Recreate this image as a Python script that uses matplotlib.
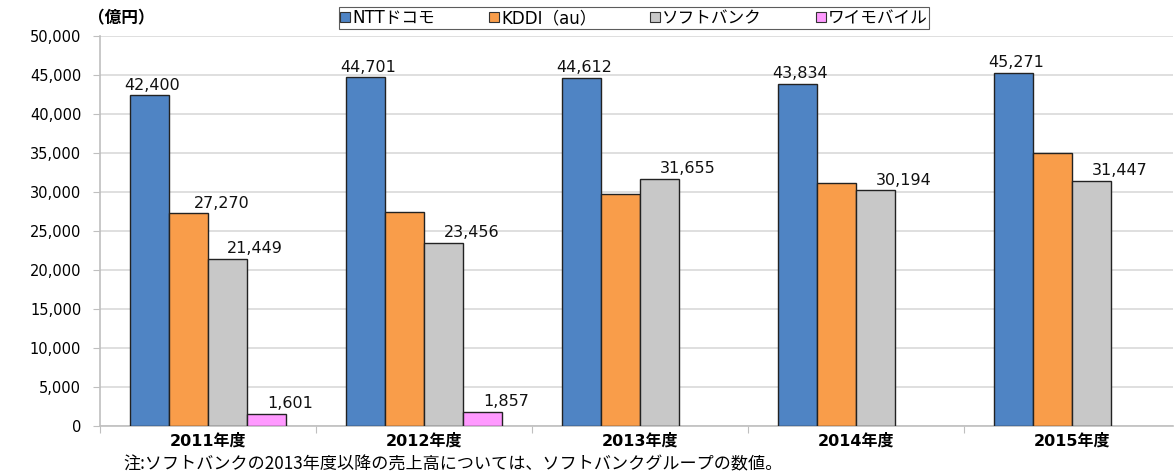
import matplotlib.pyplot as plt
from matplotlib.lines import Line2D
from matplotlib.ticker import FuncFormatter, FixedLocator
import numpy as np

years = ['2011年度', '2012年度', '2013年度', '2014年度', '2015年度']
series = ['NTTドコモ', 'KDDI（au）', 'ソフトバンク', 'ワイモバイル']
docomo = [42400, 44701, 44612, 43834, 45271]
kddi = [27270, 27400, 29700, 31150, 35000]
softbank = [21449, 23456, 31655, 30194, 31447]
ymobile = [1601, 1857, 0, 0, 0]
# which values carry a label in the original
kddi_labeled = [True, False, False, False, False]
ymobile_labeled = [True, True, False, False, False]

colors = ['#4F84C4', '#F99D4A', '#C8C8C8', '#FF99FF']
jp = ['DejaVu Sans', 'Noto Sans CJK JP']

W, H = 1174, 473
fig = plt.figure(figsize=(W / 100, H / 100), dpi=100)
ax = fig.add_axes([100 / W, (H - 426) / H, (1173 - 100) / W, 390 / H])

x = np.arange(len(years))
w = 39 / 216
data = [docomo, kddi, softbank, ymobile]
for i, (vals, c) in enumerate(zip(data, colors)):
    pos = x + (i - 1.5) * w
    v = np.array(vals, dtype=float)
    mask = v > 0
    ax.bar(pos[mask], v[mask], width=w, color=c, edgecolor='#222222', linewidth=1.0, zorder=3)

def label(xp, v, dx):
    ax.annotate(f'{v:,}', (xp, v), xytext=(dx, 2), textcoords='offset points',
                ha='center', va='bottom', fontsize=11.5, family=jp, color='#111111')

for j in range(len(years)):
    label(x[j] - 1.5 * w, docomo[j], 2)
    if kddi_labeled[j]:
        label(x[j] - 0.5 * w, kddi[j], 24)
    label(x[j] + 0.5 * w, softbank[j], 20)
    if ymobile_labeled[j]:
        label(x[j] + 1.5 * w, ymobile[j], 17)

ax.set_ylim(0, 50000)
ax.set_xlim(-0.5, -0.5 + (1173 - 100) / 216)
ax.set_yticks(np.arange(0, 50001, 5000))
ax.yaxis.set_major_formatter(FuncFormatter(lambda v, p: f'{int(v):,}'))
ax.grid(axis='y', color='#D9D9D9', linewidth=1.2, zorder=0)
ax.set_axisbelow(True)
for s in ['top', 'right']:
    ax.spines[s].set_visible(False)
for s in ['left', 'bottom']:
    ax.spines[s].set_color('#BFBFBF')
    ax.spines[s].set_linewidth(1.2)
ax.tick_params(axis='y', length=5, color='#BFBFBF', pad=8.5, labelsize=10.5)
for t in ax.get_yticklabels():
    t.set_family(jp)
ax.xaxis.set_major_locator(FixedLocator(np.arange(-0.5, 5, 1)))
ax.xaxis.set_minor_locator(FixedLocator(x))
ax.tick_params(axis='x', which='major', length=5, color='#BFBFBF', labelbottom=False)
ax.tick_params(axis='x', which='minor', length=0, pad=5)
ax.set_xticklabels(years, minor=True, fontsize=11.5, fontweight='bold', family=jp)

handles = [Line2D([], [], marker='s', linestyle='none', markersize=7,
                  markerfacecolor=c, markeredgecolor='#333333', markeredgewidth=0.8)
           for c in colors]
leg = fig.legend(handles, series, loc='center', bbox_to_anchor=(634 / W, 1 - 18 / H),
                 ncol=4, frameon=True, fancybox=False, handlelength=0.6,
                 handletextpad=0.15, columnspacing=3.2, borderpad=0.1, borderaxespad=0,
                 prop={'family': jp, 'size': 12})
leg.get_frame().set_edgecolor('#333333')
leg.get_frame().set_linewidth(0.8)

fig.text(121 / W, 1 - 18 / H, '（億円）', ha='center', va='center', fontsize=12,
         fontweight='bold', family=jp)
fig.text(123 / W, 1 - 469 / H, '注:ソフトバンクの2013年度以降の売上高については、ソフトバンクグループの数値。',
         ha='left', va='baseline', fontsize=12.3, family=['Noto Sans CJK JP', 'DejaVu Sans'])

fig.savefig('out.png', dpi=100)
